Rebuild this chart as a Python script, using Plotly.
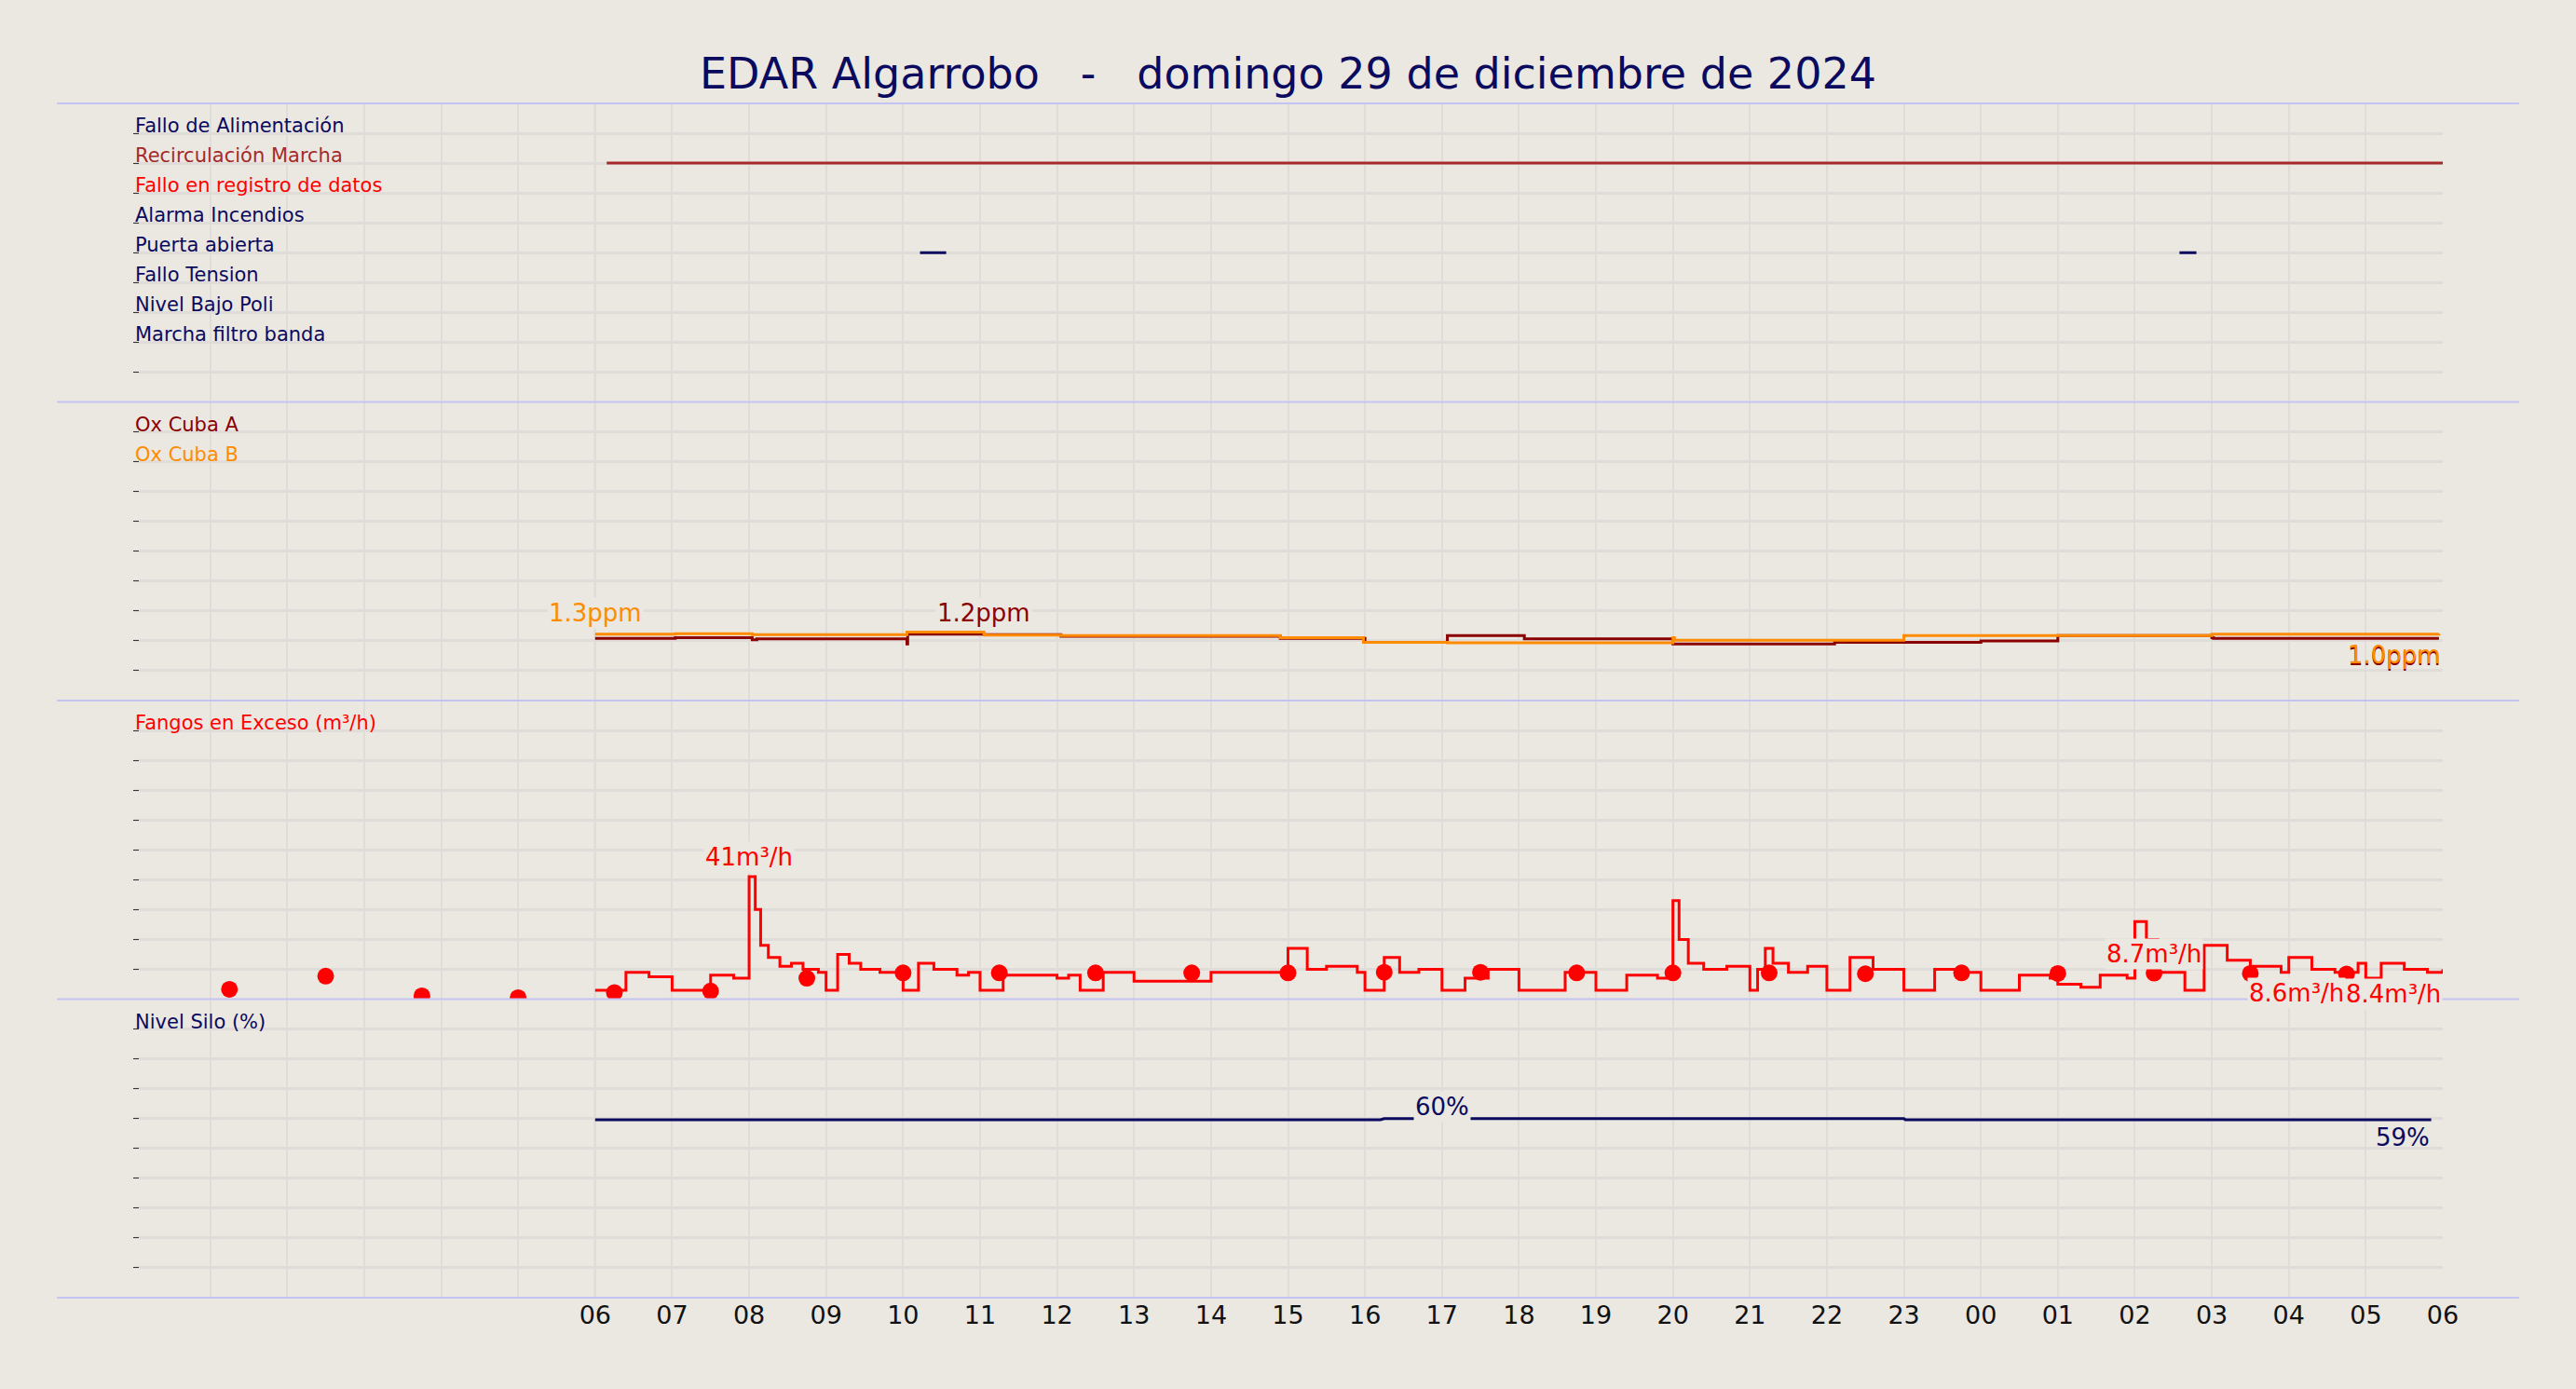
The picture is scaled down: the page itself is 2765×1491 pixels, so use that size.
import plotly.graph_objects as go
from plotly.subplots import make_subplots

# hours counted from 00:00 of 29/12/2024
signal_names = ["Fallo de Alimentación", "Recirculación Marcha", "Fallo en registro de datos",
                "Alarma Incendios", "Puerta abierta", "Fallo Tension", "Nivel Bajo Poli",
                "Marcha filtro banda"]
signal_colors = ["#0a0a5f", "#a52a2a", "#ff0000", "#0a0a5f", "#0a0a5f", "#0a0a5f", "#0a0a5f", "#0a0a5f"]
recirc_on = [(6.15, 30.0)]
puerta_on = [(10.22, 10.56), (26.58, 26.8)]

ox_a_t = [6.0, 7.04, 8.04, 8.1, 10.05, 10.06, 11.05, 12.05, 14.9, 15.98, 16.0, 17.07, 18.07, 20.0, 22.1, 23.0, 24.0, 25.0, 27.0, 27.02, 29.95]
ox_a_v = [1.21, 1.22, 1.18, 1.2, 1.1, 1.29, 1.28, 1.25, 1.21, 1.21, 1.13, 1.26, 1.2, 1.1, 1.13, 1.13, 1.16, 1.26, 1.22, 1.21, 1.21]
ox_b_t = [6.0, 7.04, 8.04, 10.05, 11.05, 11.07, 12.05, 14.9, 15.98, 17.07, 20.0, 20.02, 22.1, 23.0, 25.0, 27.0, 29.95]
ox_b_v = [1.29, 1.3, 1.28, 1.33, 1.28, 1.27, 1.26, 1.22, 1.13, 1.12, 1.22, 1.17, 1.17, 1.26, 1.26, 1.29, 1.3]

fangos_t = [6.0, 6.4, 6.7, 7.0, 7.5, 7.8, 8.0, 8.08, 8.15, 8.25, 8.4, 8.55, 8.7, 8.9, 9.0, 9.15, 9.3, 9.45, 9.7, 10.0, 10.2,
            10.4, 10.7, 10.85, 11.0, 11.3, 12.0, 12.15, 12.3, 12.6, 13.0, 14.0, 15.0, 15.25, 15.5, 15.9, 16.0, 16.25,
            16.45, 16.7, 17.0, 17.3, 17.6, 18.0, 18.6, 19.0, 19.4, 19.8, 20.0, 20.08, 20.2, 20.4, 20.7, 21.0, 21.1,
            21.2, 21.3, 21.5, 21.75, 22.0, 22.3, 22.6, 23.0, 23.4, 23.8, 24.0, 24.5, 24.9, 25.0, 25.3, 25.55, 25.9,
            26.0, 26.15, 26.3, 26.65, 26.9, 27.2, 27.5, 27.9, 28.0, 28.3, 28.6, 28.9, 29.0, 29.2, 29.5, 29.8, 30.0]
fangos_v = [3, 9, 7.5, 3, 8, 7, 41, 30, 18, 14, 11, 12, 10, 9, 3, 15, 12, 10, 9, 3, 12,
            10, 8, 9, 3, 8, 7, 8, 3, 9, 6, 9, 17, 10, 11, 9, 3, 14,
            9, 10, 3, 7, 10, 3, 9, 3, 8, 7, 33, 20, 12, 10, 11, 3, 10,
            17, 12, 9, 11, 3, 14, 10, 3, 10, 9, 3, 8, 7, 5, 4, 8, 7,
            26, 20, 9, 3, 18, 13, 11, 9, 14, 10, 9, 12, 7, 12, 10, 9, 10]
fangos_dot_t = [1.25 * k for k in range(1, 24)]
fangos_dot_v = [3.3, 7.7, 1.1, 0.5, 2.2, 2.7, 7.0, 8.8, 8.8, 8.8, 8.8, 8.8, 9.0, 9.0, 8.8, 8.8, 8.8, 8.5, 8.8,
                8.6, 8.7, 8.6, 8.4]

silo_t = [6.0, 16.2, 16.25, 17.4, 23.0, 23.02, 29.85]
silo_v = [59.6, 59.6, 60.0, 60.0, 60.0, 59.6, 59.6]

hour_ticks = list(range(0, 31))
hour_text = ["" if h < 6 else "%02d" % (h % 24) for h in hour_ticks]

BG = "#ebe7e1"
GRID = "#e0dcda"
SEP = "#c4c4f4"
NAVY = "#0a0a5f"

fig = make_subplots(rows=4, cols=1, shared_xaxes=True, vertical_spacing=0)

# panel 1: digital signals
for i, name in enumerate(signal_names):
    y = 9 - i
    fig.add_annotation(x=0, y=y, xref="x", yref="y", text=name, showarrow=False, xanchor="left",
                       yanchor="bottom", font=dict(size=21, color=signal_colors[i]), yshift=-6)
for a, b in recirc_on:
    fig.add_trace(go.Scatter(x=[a, b], y=[8, 8], mode="lines", line=dict(color="#a52a2a", width=3)), row=1, col=1)
for a, b in puerta_on:
    fig.add_trace(go.Scatter(x=[a, b], y=[5, 5], mode="lines", line=dict(color=NAVY, width=3)), row=1, col=1)

# panel 2: oxygen
fig.add_trace(go.Scatter(x=ox_a_t, y=ox_a_v, mode="lines", line=dict(color="#8b0000", width=3, shape="hv")), row=2, col=1)
fig.add_trace(go.Scatter(x=ox_b_t, y=ox_b_v, mode="lines", line=dict(color="#ff8c00", width=3, shape="hv")), row=2, col=1)
fig.add_annotation(x=0, y=5.8 - 0.58, xref="x", yref="y2", text="Ox Cuba A", showarrow=False, xanchor="left",
                   yanchor="bottom", yshift=-6, font=dict(size=21, color="#8b0000"))
fig.add_annotation(x=0, y=5.8 - 1.16, xref="x", yref="y2", text="Ox Cuba B", showarrow=False, xanchor="left",
                   yanchor="bottom", yshift=-6, font=dict(size=21, color="#ff8c00"))
fig.add_annotation(x=ox_b_t[0], y=ox_b_v[0], xref="x", yref="y2", text="1.3ppm", showarrow=False, yanchor="bottom",
                   yshift=6, bgcolor=BG, font=dict(size=26, color="#ff8c00"))
fig.add_annotation(x=11.05, y=1.29, xref="x", yref="y2", text="1.2ppm", showarrow=False, yanchor="bottom",
                   yshift=6, bgcolor=BG, font=dict(size=26, color="#8b0000"))
fig.add_annotation(x=30, y=1.2, xref="x", yref="y2", text="1.0ppm", showarrow=False, xanchor="right", yanchor="top",
                   yshift=-2, font=dict(size=26, color="#8b0000"))
fig.add_annotation(x=30, y=1.3, xref="x", yref="y2", text="1.0ppm", showarrow=False, xanchor="right", yanchor="top",
                   yshift=-6, font=dict(size=26, color="#ff8c00"))

# panel 3: fangos
fig.add_trace(go.Scatter(x=fangos_t, y=fangos_v, mode="lines", line=dict(color="#ff0000", width=3, shape="hv")), row=3, col=1)
fig.add_trace(go.Scatter(x=fangos_dot_t, y=fangos_dot_v, mode="markers", marker=dict(color="#ff0000", size=18)), row=3, col=1)
fig.add_annotation(x=0, y=90, xref="x", yref="y3", text="Fangos en Exceso (m³/h)", showarrow=False, xanchor="left",
                   yanchor="bottom", yshift=-6, font=dict(size=21, color="#ff0000"))
for x, y, txt, anchor, xa in [(8.0, 41, "41m³/h", "bottom", "center"), (26.25, 8.7, "8.7m³/h", "bottom", "center"),
                              (28.1, 8.6, "8.6m³/h", "top", "center"), (30.0, 8.4, "8.4m³/h", "top", "right")]:
    fig.add_annotation(x=x, y=y, xref="x", yref="y3", text=txt, showarrow=False, yanchor=anchor, xanchor=xa,
                       yshift=4 if anchor == "bottom" else -4, bgcolor=BG, font=dict(size=26, color="#ff0000"))

# panel 4: silo
fig.add_trace(go.Scatter(x=silo_t, y=silo_v, mode="lines", line=dict(color=NAVY, width=3)), row=4, col=1)
fig.add_annotation(x=0, y=90, xref="x", yref="y4", text="Nivel Silo (%)", showarrow=False, xanchor="left",
                   yanchor="bottom", yshift=-6, font=dict(size=21, color=NAVY))
fig.add_annotation(x=17.0, y=60, xref="x", yref="y4", text="60%", showarrow=False, yanchor="bottom", yshift=-4,
                   bgcolor=BG, font=dict(size=26, color=NAVY))
fig.add_annotation(x=29.85, y=59.6, xref="x", yref="y4", text="59%", showarrow=False, xanchor="right",
                   yanchor="top", yshift=-2, font=dict(size=26, color=NAVY))

ranges = [[0, 10], [0, 5.8], [0, 100], [0, 100]]
for r in range(4):
    fig.update_yaxes(range=ranges[r], dtick=(ranges[r][1] - ranges[r][0]) / 10, showticklabels=False,
                     showgrid=True, gridcolor=GRID, gridwidth=3, zeroline=False, ticks="inside", ticklen=6,
                     tickcolor="#333", row=r + 1, col=1)
    fig.update_xaxes(range=[0, 30], tickvals=hour_ticks, ticktext=hour_text, showgrid=True, gridcolor=GRID,
                     gridwidth=2, zeroline=False, showticklabels=(r == 3), row=r + 1, col=1)
fig.update_xaxes(tickfont=dict(size=27, color="#111"), row=4, col=1)

# separators and 06:00 marker
for yb in [0, 0.25, 0.5, 0.75, 1.0]:
    fig.add_shape(type="line", xref="paper", yref="paper", x0=-0.033, x1=1.033, y0=yb, y1=yb,
                  line=dict(color=SEP, width=2))
fig.add_shape(type="line", xref="x", yref="paper", x0=6, x1=6, y0=0, y1=1, line=dict(color=SEP, width=2), layer="below")

fig.update_layout(
    width=2765, height=1491,
    title=dict(text="EDAR Algarrobo   -   domingo 29 de diciembre de 2024", x=0.5, y=0.958,
               font=dict(size=46, color=NAVY)),
    font=dict(family="DejaVu Sans"),
    showlegend=False,
    paper_bgcolor=BG, plot_bgcolor=BG,
    margin=dict(l=143, r=143, t=111, b=98),
)

fig.write_html("out.html", config={"displayModeBar": False},
               post_script="document.body.style.margin='0';document.body.style.background='%s';" % BG)
